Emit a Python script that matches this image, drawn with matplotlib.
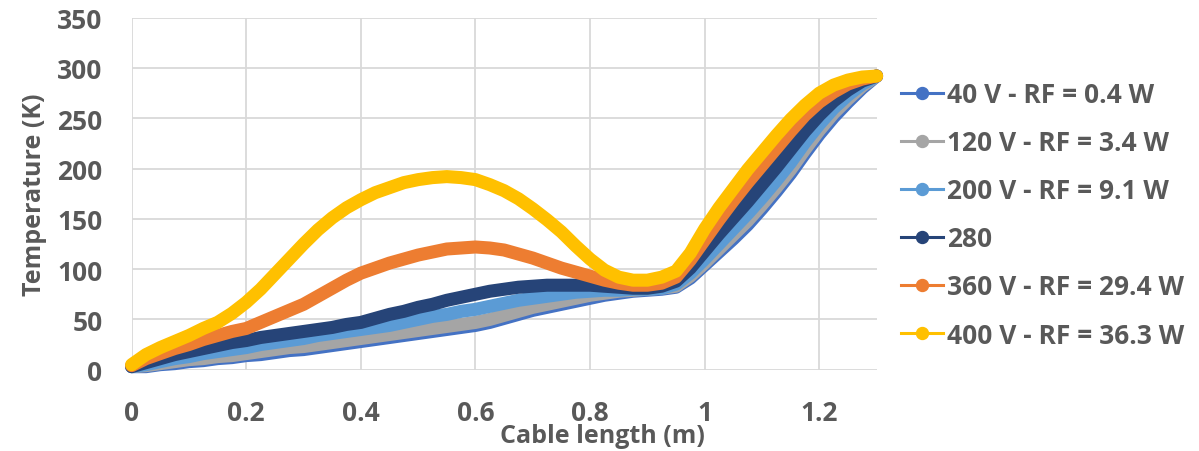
import numpy as np
import matplotlib
matplotlib.use("Agg")
from matplotlib import pyplot as plt
from matplotlib.lines import Line2D

plt.rcParams['font.family'] = ['Open Sans', 'DejaVu Sans']

# cable position (m)
length = [0.0, 0.025, 0.05, 0.075, 0.1, 0.125, 0.15, 0.175, 0.2, 0.225, 0.25, 0.275,
          0.3, 0.325, 0.35, 0.375, 0.4, 0.425, 0.45, 0.475, 0.5, 0.525, 0.55, 0.575,
          0.6, 0.625, 0.65, 0.675, 0.7, 0.725, 0.75, 0.775, 0.8, 0.825, 0.85, 0.875,
          0.9, 0.925, 0.95, 0.975, 1.0, 1.025, 1.05, 1.075, 1.1, 1.125, 1.15, 1.175,
          1.2, 1.225, 1.25, 1.275, 1.3]

# temperature (K) for each bias
t_40 = [3, 3, 5, 6, 8, 9, 11, 12, 14, 15, 17, 19,
        20, 22, 24, 26, 28, 30, 32, 34, 36, 38, 40, 42,
        44, 47, 51, 55, 59, 62, 65, 68, 71, 74, 76, 78,
        79, 80, 82, 91, 104, 117, 130, 144, 160, 177, 195, 215,
        234, 251, 266, 280, 292]
t_120 = [3, 4, 6, 8, 10, 11, 13, 14, 16, 18, 20, 22,
         23, 25, 27, 29, 31, 33, 35, 37, 39, 41, 43, 45,
         47, 50, 54, 58, 62, 65, 68, 71, 74, 76, 78, 79,
         80, 81, 83, 93, 106, 120, 134, 148, 164, 181, 199, 219,
         238, 255, 269, 282, 292]
t_200 = [3, 5, 8, 11, 13, 16, 18, 20, 22, 25, 27, 29,
         31, 34, 36, 38, 40, 42, 44, 47, 50, 53, 55, 58,
         60, 63, 66, 69, 71, 73, 75, 77, 78, 79, 79, 80,
         80, 81, 85, 96, 110, 125, 140, 155, 171, 188, 206, 226,
         244, 260, 273, 284, 292]
t_280 = [3, 7, 11, 15, 18, 21, 24, 27, 29, 32, 34, 36,
         38, 40, 42, 45, 47, 51, 55, 58, 62, 65, 69, 72,
         75, 78, 80, 82, 83, 84, 84, 84, 84, 83, 82, 81,
         81, 83, 88, 101, 118, 135, 151, 167, 184, 201, 219, 237,
         253, 267, 278, 287, 292]
t_360 = [4, 11, 16, 21, 25, 30, 34, 38, 41, 47, 53, 59,
         65, 73, 81, 89, 96, 101, 106, 110, 114, 117, 120, 121,
         122, 121, 119, 115, 111, 106, 101, 97, 93, 89, 86, 84,
         84, 86, 92, 109, 129, 149, 168, 186, 203, 220, 237, 253,
         266, 276, 284, 289, 292]
t_400 = [5, 15, 22, 28, 34, 41, 47, 56, 67, 80, 95, 110,
         125, 139, 151, 161, 169, 176, 181, 186, 189, 191, 192, 191,
         189, 184, 178, 170, 160, 149, 137, 123, 110, 99, 92, 89,
         89, 92, 98, 116, 140, 161, 180, 199, 216, 233, 249, 263,
         275, 283, 288, 291, 292]

labels = ["40 V - RF = 0.4 W", "120 V - RF = 3.4 W", "200 V - RF = 9.1 W",
          "280", "360 V - RF = 29.4 W", "400 V - RF = 36.3 W"]
colors = ["#4472C4", "#A5A5A5", "#5B9BD5", "#264478", "#ED7D31", "#FFC000"]
series = [t_40, t_120, t_200, t_280, t_360, t_400]

txt = "#595959"

fig = plt.figure(figsize=(11.99, 4.52), dpi=100)
ax = fig.add_axes([0.1098, 0.1799, 0.6213, 0.7787])

for temps, col in zip(series, colors):
    ax.plot(length, temps, color=col, lw=9.4, solid_capstyle="round",
            solid_joinstyle="round", clip_on=False)

ax.set_xlim(0, 1.3)
ax.set_ylim(0, 350)
ax.set_xticks([0, 0.2, 0.4, 0.6, 0.8, 1.0, 1.2])
ax.set_xticklabels(["0", "0.2", "0.4", "0.6", "0.8", "1", "1.2"])
ax.set_yticks(range(0, 351, 50))
ax.grid(True, color="#D9D9D9", lw=1.3)
ax.set_axisbelow(True)
for s in ax.spines.values():
    s.set_visible(False)
ax.tick_params(length=0, labelsize=19, labelcolor=txt, pad=21)
for lab in ax.get_xticklabels() + ax.get_yticklabels():
    lab.set_fontweight("bold")

fig.text(602 / 1199, 1 - 437 / 452, "Cable length (m)", ha="center", va="center",
         fontsize=18, fontweight="bold", color=txt)
fig.text(35 / 1199, 1 - 195 / 452, "Temperature (K)", ha="center", va="center",
         rotation=90, fontsize=18, fontweight="bold", color=txt)

handles = [Line2D([], [], color=c, lw=2.2, marker="o", ms=8.6) for c in colors]
leg = fig.legend(handles, labels, loc="upper left", bbox_to_anchor=(0.7515, 0.8186),
                 frameon=False, borderpad=0, borderaxespad=0, handlelength=1.6,
                 handletextpad=0.15, labelspacing=0.8,
                 prop={"size": 19, "weight": "bold"})
for t in leg.get_texts():
    t.set_color(txt)

fig.savefig("out.png", dpi=100)
